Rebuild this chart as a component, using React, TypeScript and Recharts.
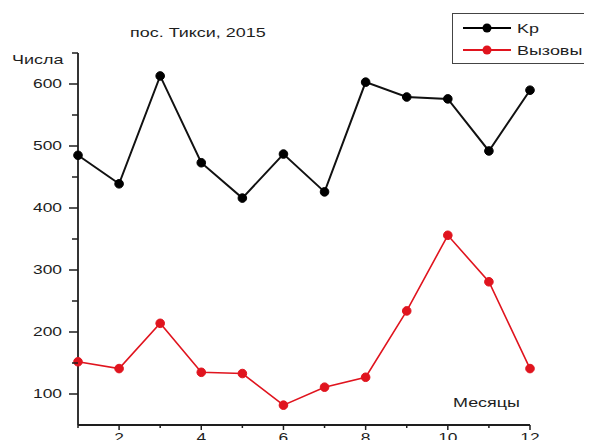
import { LineChart, Line, XAxis, YAxis } from 'recharts';

const months = [1, 2, 3, 4, 5, 6, 7, 8, 9, 10, 11, 12];
const kpValues = [485, 439, 613, 473, 416, 487, 426, 603, 579, 576, 492, 590];
const callValues = [152, 141, 214, 135, 133, 82, 111, 127, 234, 356, 281, 141];
const xTicks = [1, 2, 3, 4, 5, 6, 7, 8, 9, 10, 11, 12];
const yTicks = [100, 150, 200, 250, 300, 350, 400, 450, 500, 550, 600, 650];

const data = months.map((m, i) => ({ month: m, kp: kpValues[i], calls: callValues[i] }));

const INK = '#1e1e1e';
const RED = '#e0141e';
const FONT = '"Liberation Sans", Arial, sans-serif';

const XTick = ({ x, y, payload }: any) => {
  const major = payload.value % 2 === 0;
  return (
    <g>
      <line x1={x} y1={y} x2={x} y2={y + (major ? 5 : 3)} stroke={INK} strokeWidth={1.5} />
      {major && (
        <text transform={`translate(${x},${y + 17}) scale(1.45,1)`} textAnchor="middle" fontSize={12} fill={INK} fontFamily={FONT}>
          {payload.value}
        </text>
      )}
    </g>
  );
};

const YTick = ({ x, y, payload }: any) => {
  const major = payload.value % 100 === 0;
  return (
    <g>
      <line x1={x - (major ? 9 : 6)} y1={y} x2={x} y2={y} stroke={INK} strokeWidth={1.5} />
      {major && (
        <text transform={`translate(${x - 16},${y + 4}) scale(1.45,1)`} textAnchor="end" fontSize={12} fill={INK} fontFamily={FONT}>
          {payload.value}
        </text>
      )}
    </g>
  );
};

const label = (left: number, top: number, text: string) => (
  <div
    style={{
      position: 'absolute', left, top, fontFamily: FONT, fontSize: 13, color: INK,
      transform: 'scaleX(1.38)', transformOrigin: 'left center', whiteSpace: 'nowrap', lineHeight: '16px',
    }}
  >
    {text}
  </div>
);

const LegendRow = ({ color, text, top }: { color: string; text: string; top: number }) => (
  <div style={{ position: 'absolute', left: 8, top, height: 16, display: 'flex', alignItems: 'center' }}>
    <svg width={50} height={16}>
      <line x1={2} y1={8} x2={50} y2={8} stroke={color} strokeWidth={2} />
      <circle cx={26} cy={8} r={4.5} fill={color} />
    </svg>
    <span style={{ marginLeft: 6, fontFamily: FONT, fontSize: 13, color: INK, transform: 'scaleX(1.38)', transformOrigin: 'left center', display: 'inline-block' }}>
      {text}
    </span>
  </div>
);

export default function App() {
  return (
    <div style={{ position: 'relative', width: 592, height: 448, margin: -8, background: '#fff', overflow: 'hidden' }}>
      <LineChart width={592} height={448} data={data} margin={{ top: 53, right: 62, bottom: 0, left: 0 }}>
        <XAxis
          dataKey="month"
          type="number"
          domain={[1, 12]}
          ticks={xTicks}
          interval={0}
          height={23}
          tickSize={0}
          tickMargin={0}
          tickLine={false}
          axisLine={{ stroke: INK, strokeWidth: 1.8 }}
          tick={<XTick />}
        />
        <YAxis
          type="number"
          domain={[50, 650]}
          ticks={yTicks}
          interval={0}
          width={78}
          tickSize={0}
          tickMargin={0}
          tickLine={false}
          axisLine={{ stroke: INK, strokeWidth: 1.8 }}
          tick={<YTick />}
        />
        <Line
          dataKey="kp"
          stroke="#111"
          strokeWidth={2}
          dot={{ r: 4.3, fill: '#000', stroke: '#000', strokeWidth: 1 }}
          isAnimationActive={false}
        />
        <Line
          dataKey="calls"
          stroke={RED}
          strokeWidth={1.6}
          dot={{ r: 4.3, fill: RED, stroke: RED, strokeWidth: 1 }}
          isAnimationActive={false}
        />
      </LineChart>
      {label(130, 25, 'пос. Тикси, 2015')}
      {label(12, 52, 'Числа')}
      {label(453, 395, 'Месяцы')}
      <div style={{ position: 'absolute', left: 452, top: 13, width: 137, height: 49, border: '1.5px solid #444', background: '#fff' }}>
        <LegendRow color="#000" text="Kp" top={6} />
        <LegendRow color={RED} text="Вызовы" top={28} />
      </div>
    </div>
  );
}
